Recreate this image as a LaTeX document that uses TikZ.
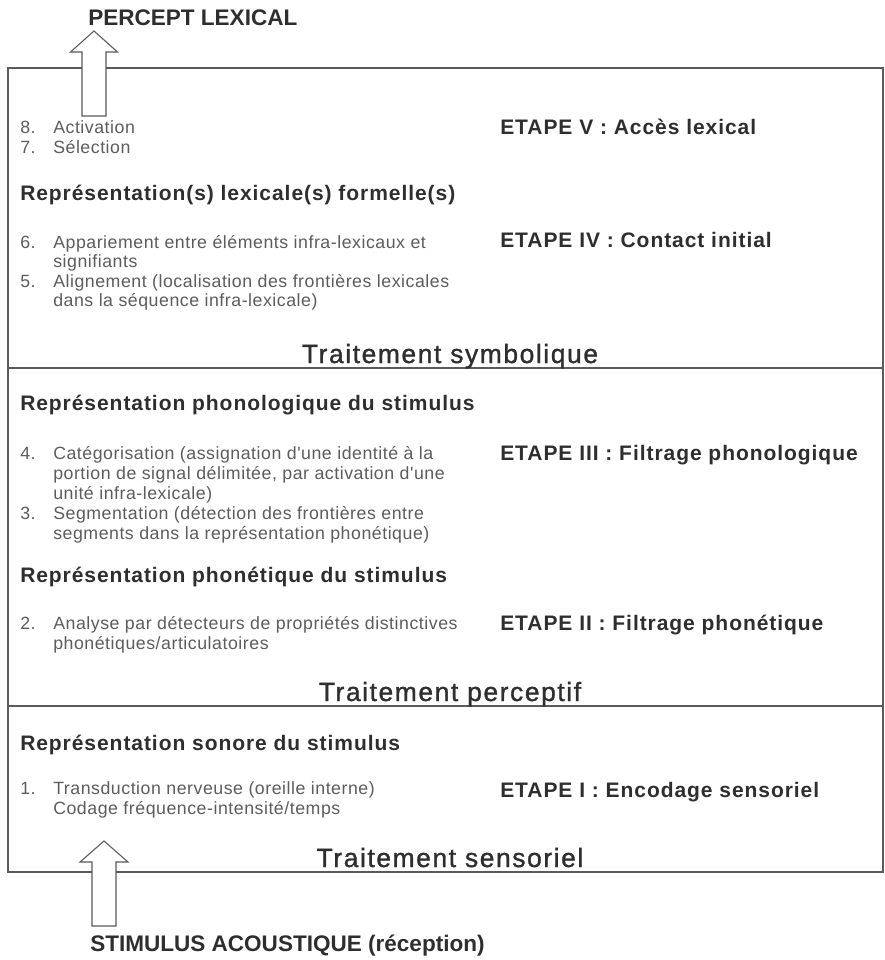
\documentclass[tikz,border=0pt]{standalone}
\usepackage{fontspec}
\setmainfont{Liberation Sans}
\newfontfamily\itemface[LetterSpace=3]{Liberation Sans}
\newfontfamily\headface[LetterSpace=4.5]{Liberation Sans}
\newfontfamily\levelface[LetterSpace=6,FakeBold=1.2]{Liberation Sans}
\definecolor{inkgray}{HTML}{2E2E2E}
\definecolor{textgray}{HTML}{5C5C5C}
\definecolor{rulegray}{HTML}{5A5A5A}

\begin{document}
\begin{tikzpicture}[x=0.75pt,y=-0.75pt,
  every node/.style={inner sep=0pt,anchor=base west},
  item/.style={text=textgray,font=\itemface\fontsize{13.3pt}{15pt}\selectfont},
  rep/.style={text=inkgray,font=\headface\bfseries\fontsize{15.75pt}{18pt}\selectfont},
  etape/.style={rep},
  level/.style={anchor=base,text=inkgray,font=\levelface\fontsize{19.8pt}{22pt}\selectfont},
  flow/.style={text=inkgray,font=\bfseries\fontsize{16.9pt}{20pt}\selectfont},
  frame/.style={draw=rulegray,line width=1pt},
  blockarrow/.style={draw=rulegray,fill=white,line width=0.8pt}]
\useasboundingbox (0,0) rectangle (885,960);

\draw[frame] (8,68) rectangle (883,872);
\draw[frame] (8,368) -- (883,368);
\draw[frame] (8,706) -- (883,706);

\node[level] (symbolique) at (450,363) {Traitement symbolique};
\node[level] (perceptif) at (450,701) {Traitement perceptif};
\node[level] (sensoriel) at (450,867) {Traitement sensoriel};

\node[rep] (replex) at (20,200) {Représentation(s) lexicale(s) formelle(s)};
\node[rep] (repphono) at (20,410) {Représentation phonologique du stimulus};
\node[rep] (repphone) at (20,582) {Représentation phonétique du stimulus};
\node[rep] (repson) at (20,750) {Représentation sonore du stimulus};

\node[etape] (etape5) at (500,134) {ETAPE V : Accès lexical};
\node[etape] (etape4) at (500,247) {ETAPE IV : Contact initial};
\node[etape] (etape3) at (500,460) {ETAPE III : Filtrage phonologique};
\node[etape] (etape2) at (500,630) {ETAPE II : Filtrage phonétique};
\node[etape] (etape1) at (500,797) {ETAPE I : Encodage sensoriel};

\foreach \n/\y/\txt in {8./133/Activation, 7./153/Sélection,
  6./248/{Appariement entre éléments infra-lexicaux et}, /267/signifiants,
  5./287/{Alignement (localisation des frontières lexicales},
  /306/{dans la séquence infra-lexicale)},
  4./459/{Catégorisation (assignation d'une identité à la},
  /479/{portion de signal délimitée, par activation d'une},
  /499/{unité infra-lexicale)},
  3./519/{Segmentation (détection des frontières entre},
  /539/{segments dans la représentation phonétique)},
  2./629/{Analyse par détecteurs de propriétés distinctives},
  /649/{phonétiques/articulatoires},
  1./794/{Transduction nerveuse (oreille interne)},
  /814/{Codage fréquence-intensité/temps}} {
 \node[item] (num\y) at (20,\y) {\n};
 \node[item] (line\y) at (53,\y) {\txt};
}

\coordinate (outtip) at (94,31);
\draw[blockarrow] (outtip) -- ++(23.5,21) -- ++(-11.5,0) -- ++(0,64) -- ++(-24,0)
  -- ++(0,-64) -- ++(-11.5,0) -- cycle;
\coordinate (intip) at (104,841);
\draw[blockarrow] (intip) -- ++(24,21) -- ++(-12,0) -- ++(0,64) -- ++(-24,0)
  -- ++(0,-64) -- ++(-12,0) -- cycle;

\node[flow] (percept) at (88,25) {PERCEPT LEXICAL};
\node[flow] (stimulus) at (90,951) {STIMULUS ACOUSTIQUE (réception)};
\end{tikzpicture}
\end{document}
